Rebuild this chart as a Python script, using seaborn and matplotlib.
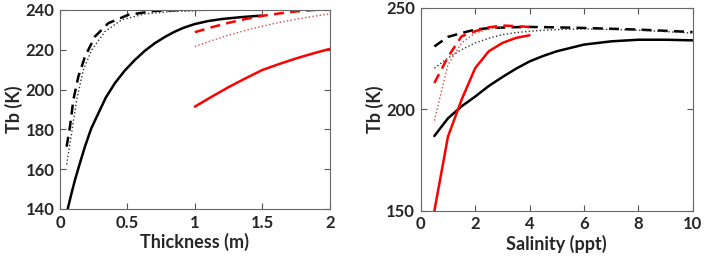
import numpy as np
import pandas as pd
import matplotlib
matplotlib.use("Agg")
import matplotlib.pyplot as plt
import seaborn as sns

# Panel (a): Tb vs thickness
thk_black_solid = [0.057, 0.085, 0.111, 0.15, 0.185, 0.23, 0.284, 0.34, 0.407, 0.48,
                   0.556, 0.63, 0.704, 0.78, 0.852, 0.92, 1.0, 1.1, 1.2, 1.35, 1.49]
tb_black_solid = [140, 147.8, 154.6, 163.6, 171.3, 180.2, 188, 196, 203.2, 209.5,
                  214.9, 219.5, 223.3, 226.5, 229.1, 231.1, 232.9, 234.4, 235.4, 236.4, 237.1]
thk_black_dash = [0.049, 0.074, 0.099, 0.136, 0.185, 0.259, 0.358, 0.506, 0.704, 1.0, 1.5]
tb_black_dash = [171.3, 181.4, 194.8, 206.5, 216.5, 226.6, 233.3, 237.5, 239.5, 240.1, 240.2]
thk_black_dot = [0.049, 0.086, 0.123, 0.173, 0.235, 0.333, 0.457, 0.63, 0.827, 1.1, 1.5]
tb_black_dot = [162.4, 178, 194.8, 209.8, 219.9, 229.1, 235, 238, 239.2, 239.8, 240]
thk_red = [1.0, 1.125, 1.25, 1.375, 1.5, 1.625, 1.75, 1.875, 2.0]
tb_red_solid = [191.4, 196.4, 201.2, 205.6, 209.8, 212.8, 215.6, 218.1, 220.4]
tb_red_dash = [228.8, 231.3, 233.5, 235.4, 237, 238.2, 239.2, 239.9, 240.5]
tb_red_dot = [221.6, 224.6, 227.3, 229.7, 231.8, 233.7, 235.3, 236.7, 238]

# Panel (b): Tb vs salinity
sal_black = [0.5, 1, 1.5, 2, 2.5, 3, 3.5, 4, 4.5, 5, 6, 7, 8, 9, 10]
tb_sal_black_solid = [186.9, 195.6, 201.5, 206.3, 211.5, 215.9, 220, 223.6, 226.3,
                      228.6, 231.9, 233.5, 234.3, 234.3, 234]
tb_sal_black_dash = [231, 235.7, 237.6, 239.3, 240, 240.3, 240.5, 240.6, 240.5,
                     240.4, 240.1, 239.7, 239.3, 238.7, 238.1]
tb_sal_black_dot = [220.3, 225.3, 229.4, 232.7, 235, 236.8, 237.8, 238.5, 239,
                    239.3, 239.6, 239.4, 239, 238.3, 237.6]
sal_red = [0.5, 1, 1.5, 2, 2.5, 3, 3.5, 4]
tb_sal_red_solid = [150, 186.6, 204.7, 220.3, 228.6, 232.7, 235.2, 236.5]
tb_sal_red_dash = [213, 225.8, 236, 238.5, 240.4, 241.3, 241, 240.6]
sal_red_dot = [0.5, 1, 1.5, 2, 2.5, 3]
tb_sal_red_dot = [194.5, 222, 232.7, 237.6, 239.6, 240.4]

sns.set_style("white")
plt.rcParams['font.family'] = ['Lato', 'DejaVu Sans']
plt.rcParams['font.weight'] = 'bold'

fig = plt.figure(figsize=(7.06, 2.62), dpi=100)
ax1 = fig.add_axes([0.085, 0.2023, 0.382, 0.760])
ax2 = fig.add_axes([0.596, 0.195, 0.385, 0.775])

red = "#ff0000"
lightred = "#d84a4a"
dash = (0, (4, 2.5))

def draw(ax, x, y, color, ls, lw):
    sns.lineplot(x=x, y=y, ax=ax, color=color, linestyle=ls, linewidth=lw,
                 estimator=None, sort=False)

draw(ax1, thk_black_solid, tb_black_solid, "black", "-", 1.8)
draw(ax1, thk_black_dash, tb_black_dash, "black", dash, 1.8)
draw(ax1, thk_black_dot, tb_black_dot, "#333333", ":", 1.0)
draw(ax1, thk_red, tb_red_solid, red, "-", 1.8)
draw(ax1, thk_red, tb_red_dash, red, dash, 1.8)
draw(ax1, thk_red, tb_red_dot, lightred, ":", 1.0)

draw(ax2, sal_black, tb_sal_black_solid, "black", "-", 1.8)
draw(ax2, sal_black, tb_sal_black_dash, "black", dash, 1.8)
draw(ax2, sal_black, tb_sal_black_dot, "#333333", ":", 1.0)
draw(ax2, sal_red, tb_sal_red_solid, red, "-", 1.8)
draw(ax2, sal_red, tb_sal_red_dash, red, dash, 1.8)
draw(ax2, sal_red_dot, tb_sal_red_dot, lightred, ":", 1.0)

ax1.set_xlim(0, 2)
ax1.set_ylim(140, 240)
ax1.set_xticks([0, 0.5, 1, 1.5, 2])
ax1.set_xticklabels(["0", "0.5", "1", "1.5", "2"])
ax1.set_yticks([140, 160, 180, 200, 220, 240])
ax1.set_xlabel("Thickness (m)", fontsize=13, fontweight="bold")
ax1.set_ylabel("Tb (K)", fontsize=13, fontweight="bold")

ax2.set_xlim(0, 10)
ax2.set_ylim(150, 250)
ax2.set_xticks([0, 2, 4, 6, 8, 10])
ax2.set_yticks([150, 200, 250])
ax2.set_xlabel("Salinity (ppt)", fontsize=13, fontweight="bold")
ax2.set_ylabel("Tb (K)", fontsize=13, fontweight="bold")

for ax in (ax1, ax2):
    ax.tick_params(direction="in", length=4, width=0.8, color="#555555",
                   labelsize=12, top=True, right=True, bottom=True, left=True,
                   pad=4)
    for lab in ax.get_xticklabels() + ax.get_yticklabels():
        lab.set_fontweight("bold")
    for s in ax.spines.values():
        s.set_color("#666666")
        s.set_linewidth(0.8)
    ax.xaxis.labelpad = 2
    ax.yaxis.labelpad = 2

fig.savefig("out.png", dpi=100)
